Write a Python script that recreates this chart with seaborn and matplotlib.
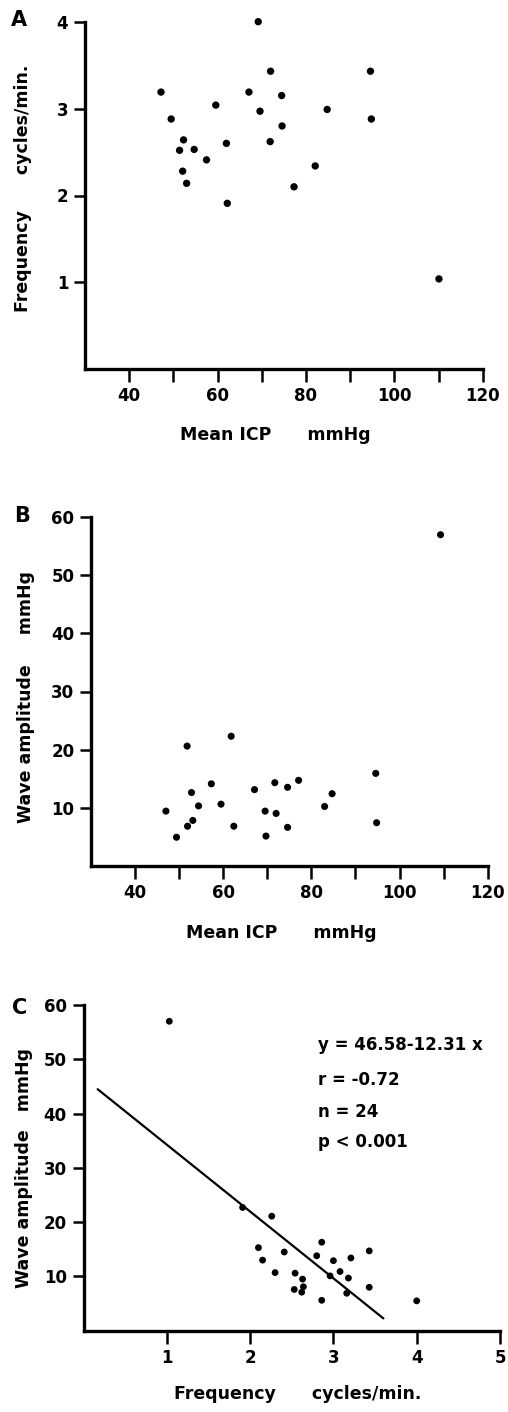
import matplotlib
matplotlib.use("Agg")
import matplotlib.pyplot as plt
import seaborn as sns
import pandas as pd
import numpy as np

# ---------------- data ----------------
# Panel A: mean ICP (mmHg) vs frequency (cycles/min)
icp_a = [47.2, 49.5, 51.4, 52.3, 52.1, 53.0, 54.7, 57.5, 59.6, 62.0, 62.2, 67.1,
         69.2, 69.6, 72.0, 71.9, 74.5, 74.6, 77.3, 82.1, 84.8, 94.6, 94.8, 110.1]
freq_a = [3.19, 2.88, 2.52, 2.64, 2.28, 2.14, 2.53, 2.41, 3.04, 2.60, 1.91, 3.19,
          4.00, 2.97, 3.43, 2.62, 3.15, 2.80, 2.10, 2.34, 2.99, 3.43, 2.88, 1.04]

# Panel B: mean ICP (mmHg) vs wave amplitude (mmHg)
icp_b = [47.0, 49.4, 51.8, 51.9, 53.1, 52.8, 54.4, 57.3, 59.5, 61.8, 62.4, 67.1,
         69.5, 69.7, 71.7, 72.0, 74.6, 74.6, 77.1, 83.0, 84.7, 94.6, 94.8, 109.3]
amp_b = [9.4, 4.9, 20.6, 6.8, 7.8, 12.6, 10.3, 14.1, 10.6, 22.3, 6.8, 13.1,
         9.4, 5.1, 14.3, 9.0, 13.5, 6.6, 14.7, 10.2, 12.4, 15.9, 7.4, 57.0]

# Panel C: frequency (cycles/min) vs wave amplitude (mmHg)
freq_c = [1.03, 1.91, 2.26, 2.10, 2.15, 2.41, 2.30, 2.54, 2.53, 2.63, 2.64, 2.62,
          2.80, 2.86, 2.86, 2.96, 3.00, 3.08, 3.18, 3.16, 3.21, 3.43, 3.43, 4.00]
amp_c = [57.0, 22.7, 21.1, 15.3, 13.0, 14.5, 10.7, 10.6, 7.6, 9.5, 8.1, 7.1,
         13.8, 16.3, 5.6, 10.1, 12.9, 10.9, 9.7, 6.9, 13.4, 14.7, 8.0, 5.5]

# regression reported in the figure
reg_intercept = 46.58
reg_slope = -12.31
reg_x_range = [0.17, 3.60]
stats_lines = ["y = 46.58-12.31 x", "r = -0.72", "n = 24", "p < 0.001"]

icp_ticks = [40, 60, 80, 100, 120]
icp_minor = [50, 70, 90, 110]
freq_ticks_a = [1, 2, 3, 4]
amp_ticks = [10, 20, 30, 40, 50, 60]
freq_ticks_c = [1, 2, 3, 4, 5]

# ---------------- style ----------------
sns.set_style("ticks")
plt.rcParams["font.family"] = ["DejaVu Sans"]
plt.rcParams["font.weight"] = "bold"
plt.rcParams["axes.labelweight"] = "bold"
plt.rcParams["axes.labelcolor"] = "black"
plt.rcParams["text.color"] = "black"
plt.rcParams["xtick.color"] = "black"
plt.rcParams["ytick.color"] = "black"

W, H = 508, 1412
fig = plt.figure(figsize=(W / 100, H / 100), dpi=100)
fig.patch.set_facecolor("white")


def rect(left, top, right, bottom):
    return [left / W, 1 - bottom / H, (right - left) / W, (bottom - top) / H]


def fx(px):
    return px / W


def fy(py):
    return 1 - py / H


axA = fig.add_axes(rect(85, 21.7, 482.7, 369.3))
axB = fig.add_axes(rect(91, 517.3, 487.7, 865.7))
axC = fig.add_axes(rect(83.5, 1005, 500, 1330.7))


def style_axis(ax):
    for s in ["top", "right"]:
        ax.spines[s].set_visible(False)
    for s in ["left", "bottom"]:
        ax.spines[s].set_linewidth(2.4)
        ax.spines[s].set_color("black")
    ax.tick_params(axis="x", which="both", direction="out", length=9, width=1.8,
                   pad=4, labelsize=12, colors="black")
    ax.tick_params(axis="y", which="both", direction="out", length=8, width=1.8,
                   pad=4, labelsize=12, colors="black")
    ax.set_facecolor("white")
    for lab in ax.get_xticklabels() + ax.get_yticklabels():
        lab.set_fontweight("bold")
    for coll in ax.collections:
        coll.set_clip_on(False)


# Panel A
dfA = pd.DataFrame({"icp": icp_a, "freq": freq_a})
sns.scatterplot(data=dfA, x="icp", y="freq", ax=axA, color="black", s=28,
                edgecolor="none", linewidth=0)
axA.set_xlim(30, 120)
axA.set_ylim(0, 4)
axA.set_xticks(icp_ticks)
axA.set_xticks(icp_minor, minor=True)
axA.set_yticks(freq_ticks_a)
style_axis(axA)

# Panel B
dfB = pd.DataFrame({"icp": icp_b, "amp": amp_b})
sns.scatterplot(data=dfB, x="icp", y="amp", ax=axB, color="black", s=26,
                edgecolor="none", linewidth=0)
axB.set_xlim(30, 120)
axB.set_ylim(0, 60)
axB.set_xticks(icp_ticks)
axB.set_xticks(icp_minor, minor=True)
axB.set_yticks(amp_ticks)
style_axis(axB)

# Panel C
dfC = pd.DataFrame({"freq": freq_c, "amp": amp_c})
sns.scatterplot(data=dfC, x="freq", y="amp", ax=axC, color="black", s=24,
                edgecolor="none", linewidth=0)
reg_x = np.array(reg_x_range)
dfL = pd.DataFrame({"x": reg_x, "y": reg_intercept + reg_slope * reg_x})
sns.lineplot(data=dfL, x="x", y="y", ax=axC, color="black", linewidth=1.6)
axC.set_xlim(0, 5)
axC.set_ylim(0, 60)
axC.set_xticks(freq_ticks_c)
axC.set_yticks(amp_ticks)
style_axis(axC)

stat_y = [52.6, 46.1, 40.2, 34.7]
for txt, yy in zip(stats_lines, stat_y):
    axC.text(2.81, yy, txt, ha="left", va="center", fontsize=12,
             fontweight="bold", color="black")

# axis labels (placed in figure pixel positions)
labels = [
    (axA, "x", "Mean ICP      mmHg", 275, 435),
    (axA, "y", "Frequency      cycles/min.", 23, 188),
    (axB, "x", "Mean ICP      mmHg", 281.5, 933),
    (axB, "y", "Wave amplitude     mmHg", 26, 696.5),
    (axC, "x", "Frequency      cycles/min.", 298, 1394),
    (axC, "y", "Wave amplitude   mmHg", 24, 1168.5),
]
for ax, which, text, px, py in labels:
    if which == "x":
        ax.set_xlabel(text, fontsize=12.5, fontweight="bold", color="black")
        ax.xaxis.set_label_coords(fx(px), fy(py), transform=fig.transFigure)
        ax.xaxis.label.set_va("center")
    else:
        ax.set_ylabel(text, fontsize=12.5, fontweight="bold", color="black")
        ax.yaxis.set_label_coords(fx(px), fy(py), transform=fig.transFigure)
        ax.yaxis.label.set_va("center")
        ax.yaxis.label.set_ha("center")

# panel letters
for letter, px, py in [("A", 18.5, 19.5), ("B", 22.5, 516.5), ("C", 20, 1008)]:
    fig.text(fx(px), fy(py), letter, fontsize=15, fontweight="bold",
             ha="center", va="center", color="black")

fig.savefig("out.png", dpi=100, facecolor="white")
